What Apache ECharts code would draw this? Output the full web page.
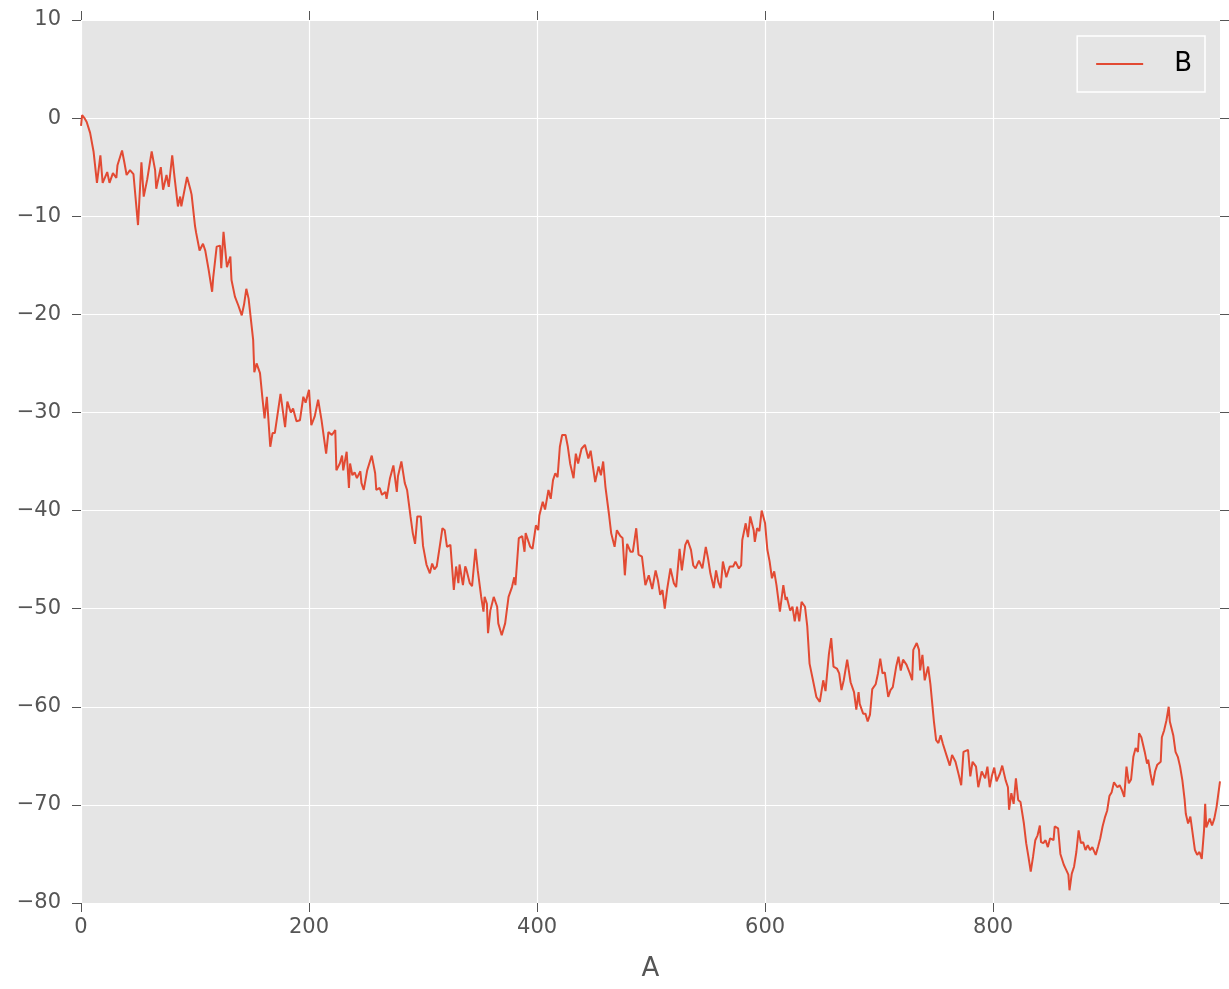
<!DOCTYPE html>
<html>
<head>
<meta charset="utf-8">
<script src="https://cdn.jsdelivr.net/npm/echarts@6/dist/echarts.min.js"></script>
<style>
html,body{margin:0;padding:0;background:#fff;}
#chart{width:1229px;height:989px;}
</style>
</head>
<body>
<div id="chart"></div>
<script>
const seriesName = 'B';
const xAxisName = 'A';
const xTicks = [0, 200, 400, 600, 800];
const yTicks = [-80, -70, -60, -50, -40, -30, -20, -10, 0, 10];

const xs = [0,1,3,5,8,11,14,17,19,23,25,28,31,32,36,38,40,43,46,50,53,55,58,62,65,66,70,72,75,77,80,82,85,87,88,93,96,97,
100,101,104,107,109,112,115,116,119,122,123,125,128,131,132,135,138,141,143,145,147,148,151,152,154,157,159,161,163,166,168,170,175,179,181,184,186,189,192,195,197,
200,202,205,208,211,215,217,220,223,224,227,229,230,233,235,236,238,240,242,245,246,248,251,255,258,259,262,264,267,268,271,274,277,278,281,284,286,289,291,293,295,298,
300,303,306,308,310,312,315,317,319,321,324,327,329,331,332,335,337,338,341,343,346,348,351,353,354,356,357,359,362,365,366,369,372,375,378,380,381,384,387,389,390,394,396,399,
401,402,405,407,410,412,414,416,418,420,422,425,427,429,432,434,436,439,442,445,447,451,454,456,458,460,463,465,468,470,473,475,477,479,482,484,487,489,492,495,498,
501,504,506,508,510,512,514,517,520,522,525,527,530,532,535,537,539,542,545,548,550,552,555,557,559,561,563,566,569,572,574,577,579,580,583,585,587,590,591,593,595,597,
600,602,604,606,608,610,613,616,618,619,622,624,626,628,630,632,635,637,639,642,645,648,651,653,656,658,660,663,665,667,669,672,675,678,680,682,683,686,688,690,692,694,697,699,
701,703,705,708,710,712,715,717,719,721,724,727,729,730,733,735,736,738,740,743,745,748,750,752,754,756,759,762,764,767,770,772,774,778,780,782,785,787,790,793,795,797,799,
801,803,806,808,811,813,814,816,818,820,822,824,827,829,831,833,835,837,839,841,842,844,846,848,850,853,854,857,859,862,864,866,867,869,871,873,875,877,879,881,883,885,887,890,892,894,896,898,
900,902,904,906,909,911,913,915,917,919,921,923,925,927,928,930,933,935,936,938,940,942,944,947,948,950,952,954,955,958,960,962,964,966,968,969,971,973,975,977,979,981,983,985,986,987,990,992,994,996,999];

const ys = [-0.8,0.3,0,-0.4,-1.5,-3.4,-6.6,-3.8,-6.6,-5.5,-6.6,-5.6,-6.1,-4.8,-3.3,-4.5,-5.8,-5.3,-5.7,-10.9,-4.5,-8,-6.3,-3.4,-5.3,-7.2,-5,-7.3,-5.8,-7,-3.8,-6,-9,-8,-9,-6,-7.3,-7.8,
-11,-11.7,-13.5,-12.8,-13.5,-15.5,-17.7,-16.2,-13.1,-13,-15.3,-11.6,-15.2,-14.1,-16.5,-18.2,-19.1,-20.1,-19,-17.4,-18.4,-18.2,-22.6,-25.9,-25,-26,-28.4,-30.6,-28.4,-33.5,-32.1,-32.1,-28.1,-31.5,-28.9,-30,-29.6,-30.9,-30.8,-28.4,-29,
-27.7,-31.3,-30.4,-28.7,-30.8,-34.2,-32,-32.3,-31.8,-35.9,-35.2,-34.4,-35.9,-34,-37.7,-35.2,-36.4,-36.1,-36.7,-36,-37.2,-37.9,-35.9,-34.4,-36.2,-37.9,-37.7,-38.4,-38.1,-38.8,-36.7,-35.4,-38.1,-36.5,-35,-37.2,-37.9,-40.6,-42.3,-43.4,-40.6,-40.6,
-43.6,-45.5,-46.4,-45.4,-46,-45.7,-43.4,-41.8,-42,-43.7,-43.5,-48.1,-45.7,-47.4,-45.5,-47.6,-45.7,-46,-47.4,-47.7,-43.9,-46.1,-48.8,-50.3,-48.8,-49.5,-52.5,-50.2,-48.8,-49.8,-51.5,-52.7,-51.5,-48.8,-47.8,-46.8,-47.6,-42.8,-42.6,-44.2,-42.3,-43.7,-43.9,-41.5,
-42,-40.5,-39.1,-39.9,-37.9,-38.8,-36.9,-36.2,-36.6,-33.5,-32.3,-32.3,-33.5,-35.2,-36.7,-34.2,-35.2,-33.7,-33.3,-34.7,-33.9,-37.1,-35.5,-36.4,-35,-37.6,-40.3,-42.3,-43.7,-42,-42.6,-42.8,-46.6,-43.4,-44.2,-44.2,-41.8,-44.5,-44.7,-47.6,-46.6,
-48,-46.1,-47.1,-48.6,-48.1,-50,-48.1,-45.9,-47.4,-47.8,-43.9,-46.1,-43.5,-43,-44,-45.6,-45.9,-45.1,-45.9,-43.7,-44.9,-46.4,-47.9,-46.1,-47.3,-47.9,-45.2,-46.8,-45.7,-45.7,-45.2,-45.9,-45.6,-43,-41.3,-42.7,-40.6,-42,-43.2,-41.8,-42.1,-40,
-41.3,-44,-45.2,-46.9,-46.2,-47.6,-50.3,-47.6,-49.1,-48.8,-50.2,-49.8,-51.3,-49.8,-51.3,-49.3,-49.8,-51.8,-55.6,-57.3,-59,-59.5,-57.3,-58.4,-54.6,-53,-55.9,-56.1,-56.6,-58.3,-57.3,-55.2,-57.5,-58.5,-60.3,-58.5,-59.7,-60.7,-60.7,-61.5,-60.8,-58.2,-57.7,-56.6,
-55.1,-56.6,-56.5,-59,-58.3,-58,-55.9,-54.9,-56.3,-55.2,-55.7,-56.6,-57.3,-54.2,-53.5,-54.2,-56.3,-54.7,-57.3,-55.9,-57.7,-61.4,-63.4,-63.7,-62.9,-63.8,-64.9,-66,-64.9,-65.6,-67,-68,-64.6,-64.4,-67.1,-65.6,-66.1,-68.2,-66.6,-67.3,-66.1,-68.2,-67,
-66.2,-67.6,-66.8,-66,-67.5,-68.2,-70.5,-68.8,-69.9,-67.3,-69.5,-69.7,-71.9,-73.9,-75.3,-76.8,-75.3,-73.6,-73.1,-72.1,-73.8,-73.9,-73.6,-74.3,-73.4,-73.6,-72.2,-72.4,-75,-76.1,-76.6,-77.1,-78.7,-77,-76.3,-74.8,-72.6,-73.9,-73.8,-74.6,-74.1,-74.6,-74.3,-75.1,-74.3,-73.4,-72.2,-71.3,
-70.6,-69.1,-68.7,-67.7,-68.2,-68,-68.5,-69.2,-66.1,-67.8,-67.4,-65.1,-64.2,-64.6,-62.7,-63.1,-64.6,-65.8,-65.4,-66.8,-68,-66.6,-65.9,-65.6,-63.1,-62.4,-61.4,-60,-61.5,-62.9,-64.6,-65.1,-66.1,-67.5,-69.5,-70.9,-71.9,-71.2,-72.9,-74.6,-75.1,-74.8,-75.5,-72.6,-69.9,-72.3,-71.4,-72.1,-71.4,-70.2,-67.6];

const points = xs.map((x, i) => [x, ys[i]]);
const minus = v => String(v).replace('-', '\u2212');
const FONT = 'DejaVu Sans';
const tickStyle = { show: true, inside: false, length: 9, lineStyle: { color: '#555555', width: 1 } };
const hiddenLine = { show: false, onZero: false };

const chart = echarts.init(document.getElementById('chart'), null, { renderer: 'canvas' });
chart.setOption({
  backgroundColor: '#ffffff',
  animation: false,
  textStyle: { fontFamily: FONT },
  grid: { left: 81, top: 20, right: 9, bottom: 86, show: true, backgroundColor: '#E5E5E5', borderWidth: 0 },
  legend: {
    data: [{ name: seriesName, icon: 'rect' }], right: 24, top: 36,
    backgroundColor: '#E5E5E5', borderColor: '#ffffff', borderWidth: 1.5, borderRadius: 0,
    padding: [15, 13, 15, 19], itemWidth: 47, itemHeight: 2,
    textStyle: { fontFamily: FONT, fontSize: 26, color: '#000', padding: [0, 0, 0, 26] }
  },
  xAxis: [{
    type: 'value', min: 0, max: 999, interval: 200, position: 'bottom',
    name: xAxisName, nameLocation: 'middle', nameGap: 53,
    nameTextStyle: { fontFamily: FONT, fontSize: 26, color: '#555555' },
    axisLine: hiddenLine,
    axisTick: Object.assign({ customValues: xTicks }, tickStyle),
    axisLabel: { customValues: xTicks, fontFamily: FONT, fontSize: 21, color: '#555555', margin: 14 },
    splitLine: { show: true, lineStyle: { color: '#ffffff', width: 1.2 } }
  }, {
    type: 'value', min: 0, max: 999, interval: 200, position: 'top',
    axisLine: hiddenLine,
    axisTick: Object.assign({ customValues: xTicks }, tickStyle),
    axisLabel: { show: false }, splitLine: { show: false }
  }],
  yAxis: [{
    type: 'value', min: -80, max: 10, interval: 10, position: 'left',
    axisLine: hiddenLine,
    axisTick: Object.assign({ customValues: yTicks }, tickStyle),
    axisLabel: { customValues: yTicks, fontFamily: FONT, fontSize: 21, color: '#555555', margin: 20, formatter: minus },
    splitLine: { show: true, lineStyle: { color: '#ffffff', width: 1.2 } }
  }, {
    type: 'value', min: -80, max: 10, interval: 10, position: 'right',
    axisLine: hiddenLine,
    axisTick: Object.assign({ customValues: yTicks }, tickStyle),
    axisLabel: { show: false }, splitLine: { show: false }
  }],
  series: [{
    name: seriesName, type: 'line', data: points, symbol: 'none',
    xAxisIndex: 0, yAxisIndex: 0,
    lineStyle: { color: '#E24A33', width: 2 }, itemStyle: { color: '#E24A33' }
  }]
});
</script>
</body>
</html>
